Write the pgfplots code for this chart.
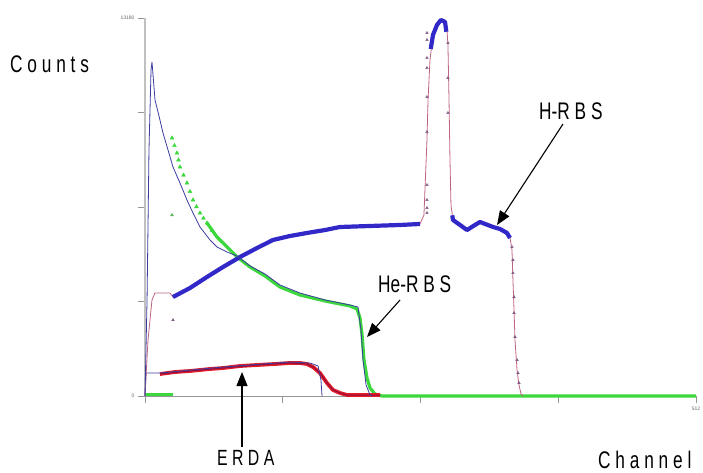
\documentclass[border=0pt]{standalone}
\usepackage{pgfplots}
\pgfplotsset{compat=1.18}
\usepackage{fontspec}
\setmainfont{Liberation Sans}
\newfontfamily\lbl[FakeStretch=0.72]{Liberation Sans}
\usetikzlibrary{arrows.meta}
\definecolor{hegreen}{RGB}{60,215,60}
\definecolor{hblue}{RGB}{50,40,200}
\definecolor{simblue}{RGB}{60,60,160}
\definecolor{simred}{RGB}{190,100,130}
\definecolor{markgray}{RGB}{130,90,130}
\definecolor{erdared}{RGB}{225,30,40}
\definecolor{erdadark}{RGB}{150,10,60}
\definecolor{axgray}{RGB}{150,150,150}
\begin{document}
\begin{tikzpicture}
\useasboundingbox (0pt,0pt) rectangle (703pt,472pt);
\begin{axis}[at={(145pt,76pt)}, anchor=south west, scale only axis,
  width=551pt, height=378pt,
  xmin=0, xmax=512, ymin=0, ymax=13180,
  axis x line=bottom, axis y line=left,
  axis line style={-, draw=axgray, line width=0.8pt},
  y axis line style={line width=2pt, draw=axgray!60},
  tick align=outside,
  scaled ticks=false,
  xtick={0,128,256,384,512}, xticklabels={,,,,512},
  ytick={0,3295,6590,9885,13180}, yticklabels={0,,,,13180},
  major tick length=7pt,
  tick style={draw=axgray, line width=0.8pt},
  ticklabel style={font=\fontsize{5}{5}\selectfont, text=black!60},
  clip=false]
% He-RBS data (green)
\addplot[only marks, mark=triangle*, mark size=2.2pt, color=hegreen] coordinates {
(25.1,8996)(27.4,8730)(29.7,8473)(31.1,8230)(32.5,7985)(35.8,7700)(39.0,7427)
(41.8,7130)(44.6,6835)(47.8,6600)(51.1,6381)(54.3,6200)(57.6,6033)(62.2,5780)};
\addplot[hegreen, line width=3.2pt, line join=round] coordinates {
(57.6,6033)(66.9,5544)(76.2,5196)(85.5,4847)(97.6,4498)(111.5,4184)(125.4,3801)(144.0,3522)
(167.3,3313)(190.5,3138)(197.0,3034)(199.8,2720)(201.7,2127)(203.5,1255)
(206.3,628)(209.1,279)(213.7,70)(220.2,0)(512,0)};
\addplot[hegreen, line width=3pt] coordinates {(0,60)(26,60)};
\addplot[only marks, mark=triangle*, mark size=1.6pt, color=hegreen!60!gray] coordinates {(25.1,6311)};
% ERDA data (red)
\addplot[erdared, line width=3.8pt, line join=round] coordinates {
(13.9,767)(27.9,837)(41.8,872)(60.4,942)(72.5,976)(88.3,1046)(104.1,1081)
(120.8,1116)(134.7,1151)(144.0,1151)(150.5,1116)(156.1,1011)(162.6,802)
(169.1,453)(174.7,209)(181.2,105)(187.7,35)(218.4,35)};
\addplot[erdadark, line width=1pt] coordinates {
(13.9,767)(41.8,872)(72.5,976)(104.1,1081)(134.7,1151)(150.5,1116)(156.1,1011)
(162.6,802)(169.1,453)(174.7,209)(181.2,105)(187.7,35)(218.4,35)};
% ERDA simulation (blue)
\addplot[simblue, line width=0.8pt] coordinates {
(0,0)(0.9,802)(13.9,802)(72.5,1011)(134.7,1186)(153.3,1151)(160.8,1046)
(163.5,558)(164.5,0)};
% H-RBS simulation (maroon line)
\addplot[simred, line width=0.8pt] coordinates {
(0,0)(2.8,1953)(6.5,3348)(9.3,3592)(23.2,3592)(26.0,3452)(57.6,4150)(88.3,4847)
(118.9,5440)(150.5,5684)(181.2,5893)(236.9,5963)(255.5,5998)(259.2,6311)
(262.0,8927)(263.0,10322)(264.8,11716)(267.6,12588)(271.3,12937)(275.0,13111)
(278.8,13042)(280.6,12763)(281.5,12239)(282.5,10322)(283.4,8229)(284.3,6660)
(286.2,6137)(299.2,5788)(311.3,6067)(329.9,5823)(339.2,5509)(341.0,5091)
(341.9,4045)(342.9,2999)(343.8,1953)(345.7,907)(347.5,384)(349.4,70)(351.2,0)};
% H-RBS data (blue band)
\addplot[hblue, line width=4.2pt, line join=round] coordinates {
(26.0,3452)(41.8,3766)(57.6,4150)(72.5,4498)(88.3,4847)(104.1,5161)(118.9,5440)
(134.7,5579)(150.5,5684)(167.3,5788)(181.2,5893)(209.1,5928)(236.9,5963)(255.5,5998)};
\addplot[hblue, line width=4.2pt, line join=round] coordinates {
(265.5,12100)(267.6,12588)(271.3,12937)(275.0,13111)(278.8,13042)(280.0,12700)};
\addplot[hblue, line width=4.2pt, line join=round] coordinates {
(285.5,6300)(286.2,6137)(292.7,5963)(299.2,5788)(306.6,5963)(311.3,6067)
(323.4,5893)(329.9,5823)(336.4,5684)(339.2,5509)};
\addplot[only marks, mark=triangle*, mark size=1.5pt, color=markgray] coordinates {
(262.0,12658)(262.0,12414)(262.0,11786)(262.0,11437)(262.0,10426)(262.0,9206)
(262.0,7358)(262.0,6835)(262.0,6556)(262.0,6381)
(281.5,12309)(281.5,11089)(281.5,9868)
(341.0,5196)(341.9,4742)(341.9,4289)(342.9,3452)(342.9,2894)(343.8,2057)
(345.7,1255)(346.6,802)(347.5,453)
(26.0,2650)};
% He-RBS simulation (blue line)
\addplot[simblue, line width=0.8pt] coordinates {
(0,0)(1.9,3348)(3.7,8578)(5.6,11368)(6.5,11647)(9.3,10322)(13.9,9624)(16.7,9171)
(21.4,8578)(26.0,7985)(32.5,7427)(39.0,6835)(44.6,6381)(51.1,5893)(60.4,5440)
(66.9,5196)(76.2,5021)(85.5,4882)(97.6,4533)(111.5,4254)(125.4,3871)(144.0,3592)
(167.3,3348)(190.5,3173)(197.9,3103)(200.7,2301)(202.6,1255)(205.4,384)
(209.1,35)(210.9,0)};
\end{axis}
% labels
\node[anchor=base west, inner sep=0] at (10pt,399pt) {\lbl\fontsize{24}{24}\selectfont C o u n t s};
\node[anchor=base west, inner sep=0] at (598pt,4pt) {\lbl\fontsize{24}{24}\selectfont C h a n n e l};
\node[anchor=base west, inner sep=0] at (217pt,7pt) {\lbl\fontsize{22}{22}\selectfont E R D A};
\node[anchor=base west, inner sep=0] at (378pt,180pt) {\lbl\fontsize{24}{24}\selectfont He-R B S};
\node[anchor=base west, inner sep=0] at (539pt,352pt) {\lbl\fontsize{24}{24}\selectfont H-R B S};
% arrows
\draw[line width=1.1pt, -{Triangle[length=14pt,width=11pt]}] (242pt,25pt) -- (242pt,100pt);
\draw[line width=1.1pt, -{Triangle[length=14pt,width=11pt]}] (400pt,172pt) -- (367pt,135pt);
\draw[line width=1.1pt, -{Triangle[length=14pt,width=11pt]}] (563pt,348pt) -- (497pt,247pt);
\end{tikzpicture}
\end{document}
